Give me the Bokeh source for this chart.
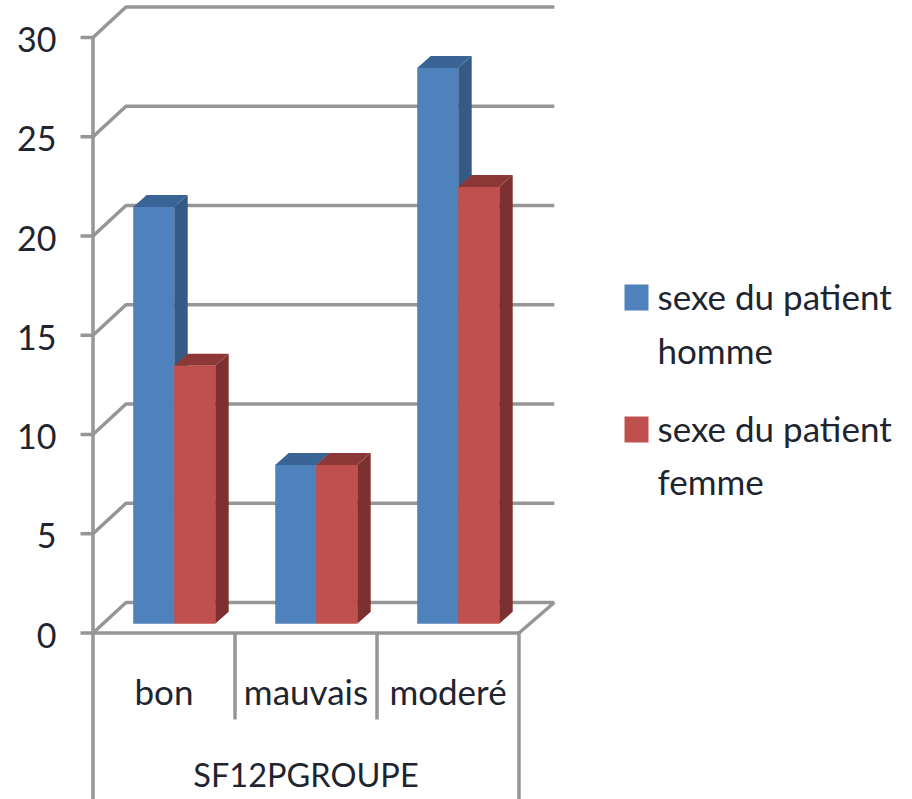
from bokeh.plotting import figure
from bokeh.embed import file_html
from bokeh.resources import INLINE
from bokeh.core.properties import value
from bokeh.models import Range1d

categories = ["bon", "mauvais", "moderé"]
homme = [21, 8, 28]
femme = [13, 8, 22]
y_ticks = [0, 5, 10, 15, 20, 25, 30]
group_label = "SF12PGROUPE"
legend_entries = [("sexe du patient", "homme"), ("sexe du patient", "femme")]

W, H = 912, 799
X0, CAT_W = 92.5, 142.0      # front-axis left edge, width of a category (px)
Y0, UNIT = 632.5, 19.85      # value 0 on the front axis, px per value

def fx(px): return (px - X0) / CAT_W
def fy(px): return (Y0 - px) / UNIT
def base(px, size): return fy(px - 0.42 * size)   # text-baseline position

WALL_DX, WALL_DY = 33 / CAT_W, 30.5 / UNIT
BAR_L, BAR_W = 40.2 / CAT_W, 41.0 / CAT_W
BAR_FLOOR = 9.2 / UNIT
BAR_DX, BAR_DY = 13.5 / CAT_W, 12 / UNIT

GRID = "#969696"
FONT = value("Lato")
TEXT = "#1f2530"
BLUE, BLUE_SIDE, BLUE_TOP = "#4F81BD", "#355A85", "#3A6496"
RED, RED_SIDE, RED_TOP = "#C0504D", "#7C3130", "#8C3836"

p = figure(width=W, height=H, output_backend="svg", toolbar_location=None,
           x_range=Range1d(fx(0), fx(W)), y_range=Range1d(fy(H), fy(0)),
           min_border=0, outline_line_color=None, background_fill_color="white",
           border_fill_color="white", margin=(0, 0, 0, 0))
p.xaxis.visible = False
p.yaxis.visible = False
p.grid.visible = False

n = len(categories)
LW = 3.5

# back wall grid lines and the diagonals to the front axis
for t in y_ticks:
    p.line([0, WALL_DX, n + WALL_DX * 1.07], [t, t + WALL_DY, t + WALL_DY],
           line_color=GRID, line_width=LW)
# floor
p.line([n, n + WALL_DX * 1.07], [0, WALL_DY], line_color=GRID, line_width=LW)
p.line([fx(80), n], [0, 0], line_color=GRID, line_width=LW)
# front axis with outer ticks
p.line([0, 0], [max(y_ticks), fy(H)], line_color=GRID, line_width=LW)
p.line([n, n], [0, fy(H)], line_color=GRID, line_width=LW)
for t in y_ticks[1:]:
    p.line([fx(80), 0], [t, t], line_color=GRID, line_width=LW)
for i in range(1, n):
    p.line([i, i], [0, fy(719)], line_color=GRID, line_width=LW)

# 3-D bars
def bars(vals, slot, front, side, top):
    for i, v in enumerate(vals):
        l = i + BAR_L + slot * BAR_W
        r = l + BAR_W
        b, t = BAR_FLOOR, BAR_FLOOR + v
        p.patch([r, r + BAR_DX, r + BAR_DX, r],
                [b, b + BAR_DY, t + BAR_DY, t], fill_color=side, line_color=None)
        p.patch([l, r, r + BAR_DX, l + BAR_DX],
                [t, t, t + BAR_DY, t + BAR_DY], fill_color=top, line_color=None)
        p.quad(left=l, right=r, bottom=b, top=t, fill_color=front, line_color=None)

bars(homme, 0, BLUE, BLUE_SIDE, BLUE_TOP)
bars(femme, 1, RED, RED_SIDE, RED_TOP)

# tick labels
TICK_SIZE, CAT_SIZE, GROUP_SIZE, LEG_SIZE = 34, 35, 32.5, 35
p.text(x=[fx(56)] * len(y_ticks), y=[t - (16.5 - 0.42 * TICK_SIZE) / UNIT for t in y_ticks],
       text=[str(t) for t in y_ticks], text_font=FONT, text_font_size=f"{TICK_SIZE}px",
       text_color=TEXT, text_align="right", text_baseline="alphabetic")
p.text(x=[i + 0.5 for i in range(n)], y=[base(705, CAT_SIZE)] * n, text=categories,
       text_font=FONT, text_font_size=f"{CAT_SIZE}px", text_color=TEXT,
       text_align="center", text_baseline="alphabetic")
p.text(x=[n / 2], y=[base(788, GROUP_SIZE)], text=[group_label], text_font=FONT,
       text_font_size=f"{GROUP_SIZE}px", text_color=TEXT, text_align="center",
       text_baseline="alphabetic")

# legend
legend_rows = [(284, 310, 310, 364, BLUE), (416, 442, 442, 495, RED)]
for (a, b), (top_px, bot_px, base1, base2, colour) in zip(legend_entries, legend_rows):
    p.quad(left=fx(624), right=fx(648), top=fy(top_px), bottom=fy(bot_px),
           fill_color=colour, line_color=None)
    p.text(x=[fx(657)] * 2, y=[base(base1, LEG_SIZE), base(base2, LEG_SIZE)], text=[a, b],
           text_font=FONT, text_font_size=f"{LEG_SIZE}px", text_color=TEXT,
           text_align="left", text_baseline="alphabetic")

open("out.html", "w").write(file_html(p, INLINE))
